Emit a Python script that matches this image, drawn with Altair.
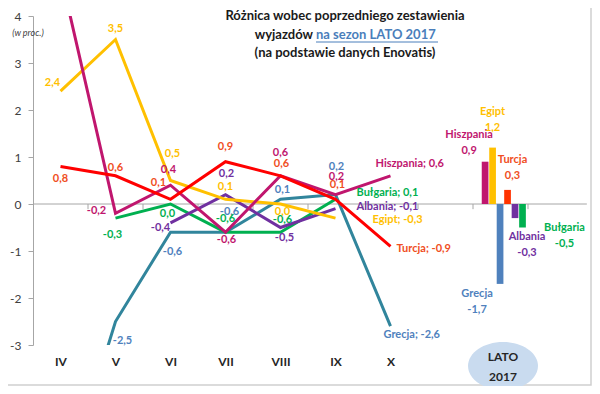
import altair as alt
import pandas as pd

# ---------------- data ----------------
MONTHS = ["IV", "V", "VI", "VII", "VIII", "IX", "X"]
SERIES = ["Hiszpania", "Egipt", "Grecja", "Turcja", "Albania", "Bułgaria"]

hiszpania = [4.9, -0.2, 0.4, -0.6, 0.6, 0.2, 0.6]
egipt = [2.4, 3.5, 0.5, 0.1, 0.0, -0.3, None]
grecja = [-6.3, -2.5, -0.6, -0.6, 0.1, 0.2, -2.6]
turcja = [0.8, 0.6, 0.1, 0.9, 0.6, 0.1, -0.9]
albania = [None, None, -0.4, 0.2, -0.5, -0.1, None]
bulgaria = [None, -0.3, 0.0, -0.6, -0.6, 0.1, None]

LATO_LABEL = "LATO 2017"
lato_2017 = [0.9, 1.2, -1.7, 0.3, -0.3, -0.5]  # order of SERIES

SERIES_VALUES = {
    "Hiszpania": hiszpania, "Egipt": egipt, "Grecja": grecja,
    "Turcja": turcja, "Albania": albania, "Bułgaria": bulgaria,
}

# ---------------- styles ----------------
LINE_COLOR = {"Hiszpania": "#C0166E", "Egipt": "#FFC000", "Grecja": "#31859C",
              "Turcja": "#FF0000", "Albania": "#7030A0", "Bułgaria": "#00B050"}
LABEL_COLOR = {"Hiszpania": "#C0166E", "Egipt": "#FFC000", "Grecja": "#4F81BD",
               "Turcja": "#F04E23", "Albania": "#7030A0", "Bułgaria": "#00B050"}
BAR_COLOR = {"Hiszpania": "#C0166E", "Egipt": "#FFC000", "Grecja": "#4F81BD",
             "Turcja": "#FF3300", "Albania": "#7030A0", "Bułgaria": "#00B050"}
DRAW_ORDER = ["Grecja", "Bułgaria", "Albania", "Egipt", "Hiszpania", "Turcja"]
FONT = "Lato"

# label placement (dx, dy, align) for each point label; points outside the plot have none
LABEL_POS = {
    "Turcja": [(0, 13, "center"), (0, -8, "center"), (-12, -16, "center"), (0, -15, "center"),
               (1, -12, "center"), (2, -14, "center"), (6, 3, "left")],
    "Hiszpania": [None, (-19, -2, "center"), (-2, -15, "center"), (1, 8, "center"),
                  (0, -23, "center"), (1, -18, "center"), (-15, -12, "left")],
    "Egipt": [(-8, -8, "center"), (0, -11, "center"), (2, -27, "center"), (0, -12, "center"),
              (2, 8, "center"), (37, 2, "left"), None],
    "Albania": [None, None, (-10, 5, "center"), (1, -21, "center"), (4, 10, "center"),
                (21, -2, "left"), None],
    "Bułgaria": [None, (-3, 17, "center"), (-3, 10, "center"), (0, -13, "center"),
                 (2, -12, "center"), (21, -6, "left"), None],
    "Grecja": [None, (7, 19, "center"), (2, 20, "center"), (4, -20, "center"),
               (2, -9, "center"), (1, -28, "center"), (-7, 9, "left")],
}
# bar labels: (dx, dy) of name line; value line is 16px lower
BAR_LABEL_POS = {"Hiszpania": (-16, -27), "Egipt": (0, -36), "Grecja": (-23, 10),
                 "Turcja": (5, -30), "Albania": (12, 19), "Bułgaria": (42, 0)}


def fmt(v):
    return f"{v:.1f}".replace(".", ",")


# ---------------- scales / axes ----------------
label_expr = "[" + ",".join(f"'{m}'" for m in MONTHS) + "][floor(datum.value)]"
X = alt.X("u:Q", scale=alt.Scale(domain=[0, 10], nice=False, zero=False),
          axis=alt.Axis(values=[i + 0.5 for i in range(len(MONTHS))], labelExpr=label_expr,
                        orient="bottom", domain=False, ticks=False, grid=False,
                        labelPadding=11, labelFontSize=12, labelFontWeight="bold",
                        labelColor="#262626", labelFont=FONT, title=None))
Y = alt.Y("v:Q", scale=alt.Scale(domain=[-3, 4], nice=False, zero=False),
          axis=alt.Axis(values=list(range(-3, 5)), labelExpr="datum.value + ''",
                        grid=False, domainColor="#A6A6A6", tickColor="#A6A6A6", tickSize=5,
                        labelPadding=7, labelFontSize=12, labelColor="#404040",
                        labelFont=FONT, title=None))

one = pd.DataFrame({"a": [0]})
layers = []

# frame
layers.append(alt.Chart(one).mark_rect(fillOpacity=0, stroke="#CFCFCF", strokeWidth=1.5).encode(
    x=alt.value(-28), x2=alt.value(558), y=alt.value(-11), y2=alt.value(369)))

# ellipse behind "LATO 2017"
ellipse = ("M -1 0 C -1 -0.379 -0.552 -0.686 0 -0.686 C 0.552 -0.686 1 -0.379 1 0 "
           "C 1 0.379 0.552 0.686 0 0.686 C -0.552 0.686 -1 0.379 -1 0 Z")
layers.append(alt.Chart(one).mark_point(shape=ellipse, size=4900, filled=True,
                                        fill="#C9DBEF", opacity=1, strokeWidth=0).encode(
    x=alt.value(470), y=alt.value(350)))
lato_words = LATO_LABEL.split(" ")
layers.append(alt.Chart(one).mark_text(text=lato_words[0], font=FONT, fontSize=12,
                                       fontWeight="bold", color="#262626").encode(
    x=alt.value(470), y=alt.value(341)))
layers.append(alt.Chart(one).mark_text(text=lato_words[1], font=FONT, fontSize=12,
                                       fontWeight="bold", color="#262626").encode(
    x=alt.value(470), y=alt.value(361)))

# zero line and category ticks
zero_df = pd.DataFrame({"u": [0.0], "u2": [10.07], "v": [0.0]})
layers.append(alt.Chart(zero_df).mark_rule(color="#A6A6A6", strokeWidth=1).encode(
    x=X, x2="u2:Q", y=Y))
tick_df = pd.DataFrame({"u": list(range(1, 10)), "v": [0.0] * 9, "v2": [-0.11] * 9})
layers.append(alt.Chart(tick_df).mark_rule(color="#A6A6A6", strokeWidth=1).encode(
    x=X, y=Y, y2="v2:Q"))

# bars for LATO 2017 (category index 8 of 10 slots)
lato_idx = len(MONTHS) + 1
bar_rows = []
n = len(SERIES)
for k, (s, val) in enumerate(zip(SERIES, lato_2017)):
    c = lato_idx + 0.5 + (k - (n - 1) / 2) * 0.136 + 0.06
    bar_rows.append({"s": s, "u": c - 0.061, "u2": c + 0.061, "uc": c, "v": val, "v0": 0.0})
bar_df = pd.DataFrame(bar_rows)
layers.append(alt.Chart(bar_df).mark_bar().encode(
    x=X, x2="u2:Q", y=Y, y2="v0:Q",
    color=alt.Color("s:N", scale=alt.Scale(domain=SERIES, range=[BAR_COLOR[s] for s in SERIES]),
                    legend=None)))
for r in bar_rows:
    dx, dy = BAR_LABEL_POS[r["s"]]
    d = pd.DataFrame({"u": [r["uc"]], "v": [r["v"]]})
    for txt, off in ((r["s"], 0), (fmt(r["v"]), 16)):
        layers.append(alt.Chart(d).mark_text(text=txt, dx=dx, dy=dy + off, font=FONT, fontSize=11,
                                             fontWeight="bold", color=LABEL_COLOR[r["s"]]).encode(
            x=X, y=Y))

# lines
for s in DRAW_ORDER:
    vals = SERIES_VALUES[s]
    d = pd.DataFrame({"u": [i + 0.5 for i, v in enumerate(vals) if v is not None],
                      "v": [v for v in vals if v is not None]})
    layers.append(alt.Chart(d).mark_line(color=LINE_COLOR[s], strokeWidth=3, clip=True,
                                         strokeJoin="miter").encode(x=X, y=Y))

# point labels
for s in DRAW_ORDER:
    vals = SERIES_VALUES[s]
    last = max(i for i, v in enumerate(vals) if v is not None)
    for i, v in enumerate(vals):
        pos = LABEL_POS[s][i]
        if v is None or pos is None:
            continue
        dx, dy, al = pos
        txt = f"{s}; {fmt(v)}" if i == last else fmt(v)
        d = pd.DataFrame({"u": [i + 0.5], "v": [v]})
        layers.append(alt.Chart(d).mark_text(text=txt, dx=dx, dy=dy, align=al, font=FONT,
                                             fontSize=11, fontWeight="bold",
                                             color=LABEL_COLOR[s]).encode(x=X, y=Y))

# title
def tx(text, x, y, align="center", color="#1a1a1a", size=13, weight="bold", style="normal"):
    return alt.Chart(one).mark_text(text=text, align=align, baseline="middle", font=FONT,
                                    fontSize=size, fontWeight=weight, fontStyle=style,
                                    color=color).encode(x=alt.value(x), y=alt.value(y))

layers.append(tx("Różnica wobec poprzedniego zestawienia", 312, 0))
layers.append(tx("wyjazdów", 280, 19, align="right"))
layers.append(tx("na sezon LATO 2017", 283, 19, align="left", color="#4A7EBB"))
layers.append(alt.Chart(one).mark_rule(color="#4A7EBB", strokeWidth=1).encode(
    x=alt.value(283), x2=alt.value(405), y=alt.value(26)))
layers.append(tx("(na podstawie danych Enovatis)", 312, 37))
layers.append(tx("(w proc.)", -5, 17, color="#404040", size=9, weight="normal", style="italic"))

chart = alt.layer(*layers).properties(
    width=550, height=329,
    autosize=alt.AutoSizeParams(type="none"),
    padding={"left": 25, "top": 8, "right": 9, "bottom": 41},
    background="white",
).configure_view(stroke=None)

chart.save("out.html", embed_options={"renderer": "svg", "actions": False})
